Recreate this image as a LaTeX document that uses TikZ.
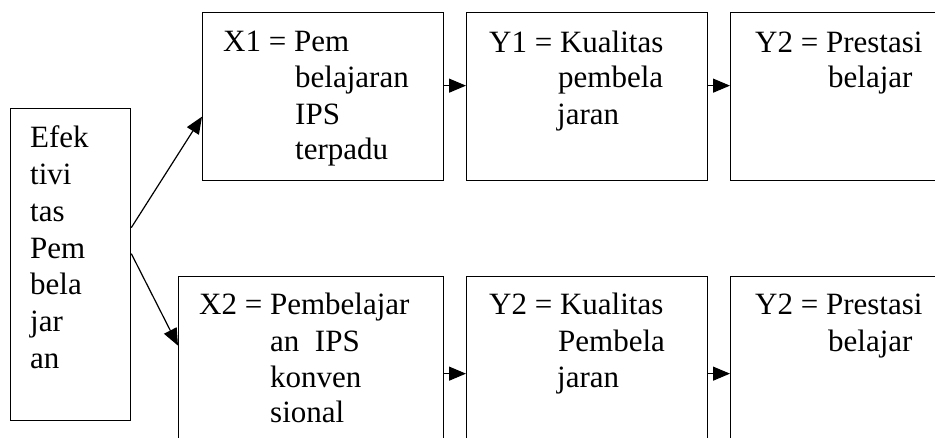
\documentclass[tikz,border=0pt]{standalone}
\usepackage{fontspec}
\setmainfont{Liberation Serif}
\usetikzlibrary{arrows.meta}
\tikzset{
  box/.style={draw=black, line width=1.3pt, inner sep=0pt, anchor=north west},
  txt/.style={inner sep=0pt, anchor=base west, font=\fontsize{31}{36}\selectfont},
  arr/.style={line width=1.2pt, -{Triangle[length=17pt,width=14pt]}}
}
\begin{document}
\begin{tikzpicture}[x=1pt,y=-1pt]
\useasboundingbox (0,0) rectangle (935,438);
\clip (0,0) rectangle (935,438);
% boxes
\node[box, minimum width=120pt, minimum height=312pt] (left) at (10,108) {};
\node[box, minimum width=241pt, minimum height=168pt] (x1) at (202,12) {};
\node[box, minimum width=241pt, minimum height=168pt] (y1) at (466,12) {};
\node[box, minimum width=240pt, minimum height=168pt] (y2a) at (730,12) {};
\node[box, minimum width=265pt, minimum height=184pt] (x2) at (178,276) {};
\node[box, minimum width=241pt, minimum height=184pt] (y1b) at (466,276) {};
\node[box, minimum width=240pt, minimum height=184pt] (y2b) at (730,276) {};
% left text
\foreach \t [count=\i] in {Efek,tivi,tas,Pem,bela,jar,an}
  \node[txt] (lt\i) at (30,{148+(\i-1)*36.7}) {\t};
% X1
\node[txt] (x1a) at (223,52) {X1 = Pem};
\node[txt] (x1b) at (295,88) {belajaran};
\node[txt] (x1c) at (295,125) {IPS};
\node[txt] (x1d) at (295,160) {terpadu};
% Y1
\node[txt] (y1a) at (489,53) {Y1 = Kualitas};
\node[txt] (y1b1) at (558,88) {pembela};
\node[txt] (y1c) at (557,125) {jaran};
% Y2 top
\node[txt] (y2a1) at (755,53) {Y2 = Prestasi};
\node[txt] (y2a2) at (828,88) {belajar};
% X2
\node[txt] (x2a) at (199,315) {X2 = Pembelajar};
\node[txt] (x2b) at (270,352) {an\ \ IPS};
\node[txt] (x2c) at (270,388) {konven};
\node[txt] (x2d) at (270,423) {sional};
% Y2 bottom (kualitas)
\node[txt] (ybk1) at (489,315) {Y2 = Kualitas};
\node[txt] (ybk2) at (558,352) {Pembela};
\node[txt] (ybk3) at (557,388) {jaran};
% Y2 bottom (prestasi)
\node[txt] (ybp1) at (755,315) {Y2 = Prestasi};
\node[txt] (ybp2) at (828,352) {belajar};
% arrows
\draw[arr] ([yshift=37pt]left.east) -- ([yshift=-20pt]x1.west);
\draw[arr] ([yshift=11pt]left.east) -- ([yshift=23pt]x2.west);
\draw[arr] ([yshift=11pt]x1.east) -- ([yshift=11pt]y1.west);
\draw[arr] ([yshift=11pt]y1.east) -- ([yshift=11pt]y2a.west);
\draw[arr] ([yshift=-5pt]x2.east) -- ([yshift=-5pt]y1b.west);
\draw[arr] ([yshift=-5pt]y1b.east) -- ([yshift=-5pt]y2b.west);
\end{tikzpicture}
\end{document}
